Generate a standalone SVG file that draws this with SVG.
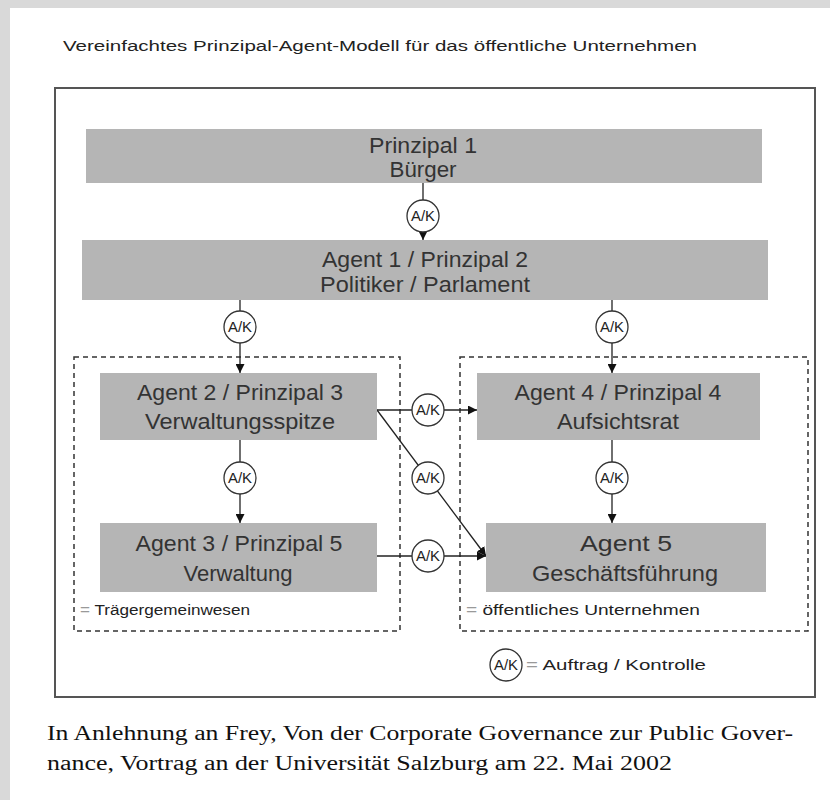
<svg xmlns="http://www.w3.org/2000/svg" width="830" height="800" viewBox="0 0 830 800">
<defs>
<marker id="arr" viewBox="0 0 10 10" refX="10" refY="5" markerWidth="9" markerHeight="9" markerUnits="userSpaceOnUse" orient="auto">
<path d="M0,0 L10,5 L0,10 z" fill="#111"/>
</marker>
<style>
.box{fill:#b5b5b5;}
.nt{font-family:"Liberation Sans",Arial,sans-serif;font-size:22px;fill:#333;text-anchor:middle;}
.ak{font-family:"Liberation Sans",Arial,sans-serif;font-size:14px;fill:#222;text-anchor:middle;}
.circ{fill:#fff;stroke:#333;stroke-width:1.3;}
.ln{stroke:#222;stroke-width:1.3;fill:none;}
.dash{fill:none;stroke:#333;stroke-width:1.5;stroke-dasharray:5,4;}
.lbl{font-family:"Liberation Sans",Arial,sans-serif;font-size:14px;fill:#222;}
.cap{font-family:"Liberation Serif","Times New Roman",serif;font-size:20px;fill:#111;}
</style>
</defs>
<rect x="0" y="0" width="830" height="800" fill="#d9d9d9"/>
<rect x="10" y="8" width="820" height="792" fill="#ffffff"/>
<text class="lbl" x="63" y="51" font-size="16" textLength="634" lengthAdjust="spacingAndGlyphs">Vereinfachtes Prinzipal-Agent-Modell für das öffentliche Unternehmen</text>
<rect x="55" y="88" width="760" height="609" fill="#fff" stroke="#555" stroke-width="2"/>

<g id="groups">
<rect class="dash" x="74" y="357" width="326" height="274"/>
<rect class="dash" x="460" y="357" width="348" height="274"/>
<text class="lbl" x="80" y="615" textLength="170" lengthAdjust="spacingAndGlyphs"><tspan fill="#999">=</tspan> Trägergemeinwesen</text>
<text class="lbl" x="466" y="615" textLength="234" lengthAdjust="spacingAndGlyphs"><tspan fill="#999">=</tspan> öffentliches Unternehmen</text>
</g>

<g id="connectors">
<line class="ln" x1="423" y1="183" x2="423" y2="200"/>
<line class="ln" x1="423" y1="232" x2="423" y2="240" marker-end="url(#arr)"/>
<line class="ln" x1="240" y1="300" x2="240" y2="311"/>
<line class="ln" x1="240" y1="343" x2="240" y2="373" marker-end="url(#arr)"/>
<line class="ln" x1="612" y1="300" x2="612" y2="311"/>
<line class="ln" x1="612" y1="343" x2="612" y2="373" marker-end="url(#arr)"/>
<line class="ln" x1="240" y1="440" x2="240" y2="462"/>
<line class="ln" x1="240" y1="494" x2="240" y2="523" marker-end="url(#arr)"/>
<line class="ln" x1="612" y1="440" x2="612" y2="462"/>
<line class="ln" x1="612" y1="494" x2="612" y2="523" marker-end="url(#arr)"/>
<line class="ln" x1="377" y1="410" x2="477" y2="410" marker-end="url(#arr)"/>
<line class="ln" x1="377" y1="410" x2="486" y2="556" marker-end="url(#arr)"/>
<line class="ln" x1="377" y1="556" x2="486" y2="556" marker-end="url(#arr)"/>
<g id="ak1"><circle class="circ" cx="423" cy="216" r="16"/><text class="ak" x="423" y="221" textLength="24" lengthAdjust="spacingAndGlyphs">A/K</text></g>
<g id="ak2"><circle class="circ" cx="240" cy="327" r="16"/><text class="ak" x="240" y="332" textLength="24" lengthAdjust="spacingAndGlyphs">A/K</text></g>
<g id="ak3"><circle class="circ" cx="612" cy="327" r="16"/><text class="ak" x="612" y="332" textLength="24" lengthAdjust="spacingAndGlyphs">A/K</text></g>
<g id="ak4"><circle class="circ" cx="240" cy="478" r="16"/><text class="ak" x="240" y="483" textLength="24" lengthAdjust="spacingAndGlyphs">A/K</text></g>
<g id="ak5"><circle class="circ" cx="612" cy="478" r="16"/><text class="ak" x="612" y="483" textLength="24" lengthAdjust="spacingAndGlyphs">A/K</text></g>
<g id="ak6"><circle class="circ" cx="428" cy="410" r="16"/><text class="ak" x="428" y="415" textLength="24" lengthAdjust="spacingAndGlyphs">A/K</text></g>
<g id="ak7"><circle class="circ" cx="428" cy="478" r="16"/><text class="ak" x="428" y="483" textLength="24" lengthAdjust="spacingAndGlyphs">A/K</text></g>
<g id="ak8"><circle class="circ" cx="428" cy="556" r="16"/><text class="ak" x="428" y="561" textLength="24" lengthAdjust="spacingAndGlyphs">A/K</text></g>
</g>

<g id="n1"><rect class="box" x="86" y="129" width="676" height="54"/>
<text class="nt" x="423" y="153" textLength="108" lengthAdjust="spacingAndGlyphs">Prinzipal 1</text>
<text class="nt" x="423" y="177" textLength="67" lengthAdjust="spacingAndGlyphs">Bürger</text></g>

<g id="n2"><rect class="box" x="82" y="240" width="686" height="60"/>
<text class="nt" x="425" y="267" textLength="206" lengthAdjust="spacingAndGlyphs">Agent 1 / Prinzipal 2</text>
<text class="nt" x="425" y="292" textLength="210" lengthAdjust="spacingAndGlyphs">Politiker / Parlament</text></g>

<g id="n3"><rect class="box" x="100" y="373" width="277" height="67"/>
<text class="nt" x="240" y="400" textLength="206" lengthAdjust="spacingAndGlyphs">Agent 2 / Prinzipal 3</text>
<text class="nt" x="240" y="429" textLength="190" lengthAdjust="spacingAndGlyphs">Verwaltungsspitze</text></g>

<g id="n4"><rect class="box" x="477" y="373" width="283" height="67"/>
<text class="nt" x="618" y="400" textLength="207" lengthAdjust="spacingAndGlyphs">Agent 4 / Prinzipal 4</text>
<text class="nt" x="618" y="429" textLength="122" lengthAdjust="spacingAndGlyphs">Aufsichtsrat</text></g>

<g id="n5"><rect class="box" x="100" y="523" width="277" height="69"/>
<text class="nt" x="239" y="551" textLength="207" lengthAdjust="spacingAndGlyphs">Agent 3 / Prinzipal 5</text>
<text class="nt" x="238" y="581" textLength="109" lengthAdjust="spacingAndGlyphs">Verwaltung</text></g>

<g id="n6"><rect class="box" x="486" y="523" width="280" height="69"/>
<text class="nt" x="626" y="551" textLength="92" lengthAdjust="spacingAndGlyphs">Agent 5</text>
<text class="nt" x="625" y="581" textLength="186" lengthAdjust="spacingAndGlyphs">Geschäftsführung</text></g>

<g id="legend">
<circle class="circ" cx="506" cy="665" r="16"/>
<text class="ak" x="506" y="670" textLength="24" lengthAdjust="spacingAndGlyphs">A/K</text>
<text class="lbl" x="526" y="670" textLength="180" lengthAdjust="spacingAndGlyphs"><tspan fill="#999">=</tspan> Auftrag / Kontrolle</text>
</g>

<text class="cap" x="47" y="740" textLength="746" lengthAdjust="spacingAndGlyphs">In Anlehnung an Frey, Von der Corporate Governance zur Public Gover-</text>
<text class="cap" x="47" y="770" textLength="625" lengthAdjust="spacingAndGlyphs">nance, Vortrag an der Universität Salzburg am 22. Mai 2002</text>
</svg>
